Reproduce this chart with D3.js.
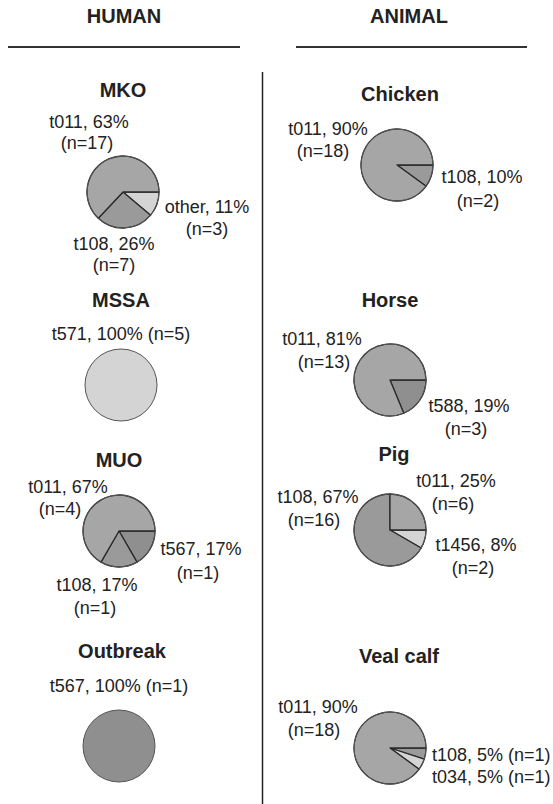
<!DOCTYPE html>
<html>
<head>
<meta charset="utf-8">
<script src="https://cdn.jsdelivr.net/npm/d3@7"></script>
<style>
  body { margin: 0; background: #fff; }
  text { font-family: 'Liberation Sans', Arial, sans-serif; fill: #222; }
</style>
</head>
<body>
<div id="chart"></div>
<script>
// Column headings
const groups = ['HUMAN', 'ANIMAL']

// Panels, in drawing order
const panelNames = ['MKO', 'MSSA', 'MUO', 'Outbreak', 'Chicken', 'Horse', 'Pig', 'Veal calf']

// spa types per panel, listed clockwise from 3 o'clock
const spaTypes = [
  ['other', 't108', 't011'],
  ['t571'],
  ['t567', 't108', 't011'],
  ['t567'],
  ['t108', 't011'],
  ['t588', 't011'],
  ['t1456', 't108', 't011'],
  ['t108', 't034', 't011'],
]

// isolate counts per slice
const counts = [
  [3, 7, 17],
  [5],
  [1, 1, 4],
  [1],
  [2, 18],
  [3, 13],
  [2, 16, 6],
  [1, 1, 18],
]

// percentages as printed in the labels
const percents = [
  [11, 26, 63],
  [100],
  [17, 17, 67],
  [100],
  [10, 90],
  [19, 81],
  [8, 67, 25],
  [5, 5, 90],
]

// fill per spa type
const typeColors = {
  t011: '#a6a6a6',
  t108: '#9a9a9a',
  other: '#d4d4d4',
  t571: '#d4d4d4',
  t567: '#8f8f8f',
  t588: '#8f8f8f',
  t1456: '#d4d4d4',
  t034: '#d4d4d4',
}

// layout: pie centre, title position, label line positions (x1, y1, x2, y2)
const layout = [
  { cx: 123, cy: 192, tx: 123, ty: 97, labels: [[207, 213, 207, 235], [114, 250, 114, 271], [89, 128, 87, 149]] },
  { cx: 121, cy: 385, tx: 121, ty: 307, single: [121, 340] },
  { cx: 119, cy: 531, tx: 119, ty: 467, labels: [[201, 555, 198, 579], [97, 591, 95, 614], [68, 493, 60, 515]] },
  { cx: 119, cy: 746, tx: 122, ty: 658, single: [119, 692] },
  { cx: 397, cy: 165, tx: 400, ty: 101, labels: [[482, 183, 478, 207], [328, 135, 323, 157]] },
  { cx: 390, cy: 380, tx: 390, ty: 307, labels: [[469, 412, 466, 435], [322, 345, 324, 368]] },
  { cx: 390, cy: 530, tx: 394, ty: 461, labels: [[476, 551, 473, 574], [318, 503, 314, 526], [456, 487, 453, 510]] },
  { cx: 390, cy: 748, tx: 399, ty: 663, labels: [[432, 761, null, null], [432, 783, null, null], [318, 713, 314, 736]] },
]

const width = 553
const height = 804
const radius = 36
const labelSize = 18

const svg = d3
  .select('#chart')
  .append('svg')
  .attr('width', width)
  .attr('height', height)

// Headings with rules under them
const headX = d3.scaleOrdinal().domain(groups).range([124, 409])
const ruleX = { HUMAN: [8, 240], ANIMAL: [296, 527] }

groups.forEach((g) => {
  svg
    .append('text')
    .attr('x', headX(g))
    .attr('y', 23)
    .attr('text-anchor', 'middle')
    .attr('font-size', 20)
    .attr('font-weight', 'bold')
    .attr('fill', '#1a1a1a')
    .text(g)

  svg
    .append('line')
    .attr('x1', ruleX[g][0])
    .attr('x2', ruleX[g][1])
    .attr('y1', 47)
    .attr('y2', 47)
    .attr('stroke', '#333')
    .attr('stroke-width', 2)
})

// Divider between the two columns
svg
  .append('line')
  .attr('x1', 262.5)
  .attr('x2', 262.5)
  .attr('y1', 72)
  .attr('y2', height)
  .attr('stroke', '#222')
  .attr('stroke-width', 1.5)

const pie = d3
  .pie()
  .sort(null)
  .value((d) => d.n)
  .startAngle(Math.PI / 2)
  .endAngle(Math.PI / 2 + 2 * Math.PI)

const arc = d3.arc().innerRadius(0).outerRadius(radius)

panelNames.forEach((name, i) => {
  const lay = layout[i]
  const slices = spaTypes[i].map((t, j) => ({
    type: t,
    n: counts[i][j],
    pct: percents[i][j],
  }))

  // Panel title
  svg
    .append('text')
    .attr('x', lay.tx)
    .attr('y', lay.ty)
    .attr('text-anchor', 'middle')
    .attr('font-size', 20)
    .attr('font-weight', 'bold')
    .attr('fill', '#1a1a1a')
    .text(name)

  const g = svg.append('g').attr('transform', `translate(${lay.cx},${lay.cy})`)

  if (slices.length === 1) {
    g.append('circle')
      .attr('r', radius)
      .attr('fill', typeColors[slices[0].type])
      .attr('stroke', '#555')
      .attr('stroke-width', 1)
  } else {
    g.selectAll('path')
      .data(pie(slices))
      .join('path')
      .attr('d', arc)
      .attr('fill', (d) => typeColors[d.data.type])
      .attr('stroke', '#2a2a2a')
      .attr('stroke-width', 1.3)
      .attr('stroke-linejoin', 'round')

    // softer outer rim
    g.append('circle')
      .attr('r', radius)
      .attr('fill', 'none')
      .attr('stroke', '#555')
      .attr('stroke-width', 1)
  }

  // Labels
  if (lay.single) {
    const s = slices[0]
    svg
      .append('text')
      .attr('x', lay.single[0])
      .attr('y', lay.single[1])
      .attr('text-anchor', 'middle')
      .attr('font-size', labelSize)
      .text(`${s.type}, ${s.pct}% (n=${s.n})`)
  } else {
    slices.forEach((s, j) => {
      const p = lay.labels[j]
      if (p[2] === null) {
        svg
          .append('text')
          .attr('x', p[0])
          .attr('y', p[1])
          .attr('font-size', labelSize)
          .text(`${s.type}, ${s.pct}% (n=${s.n})`)
        return
      }
      svg
        .append('text')
        .attr('x', p[0])
        .attr('y', p[1])
        .attr('text-anchor', 'middle')
        .attr('font-size', labelSize)
        .text(`${s.type}, ${s.pct}%`)
      svg
        .append('text')
        .attr('x', p[2])
        .attr('y', p[3])
        .attr('text-anchor', 'middle')
        .attr('font-size', labelSize)
        .text(`(n=${s.n})`)
    })
  }
})
</script>
</body>
</html>
